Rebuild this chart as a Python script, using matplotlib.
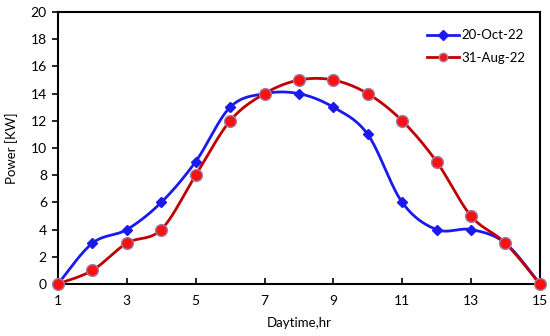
import numpy as np
import matplotlib
matplotlib.use("Agg")
import matplotlib.pyplot as plt
from matplotlib.lines import Line2D

plt.rcParams['font.family'] = ['Lato', 'DejaVu Sans']

hours = [1, 2, 3, 4, 5, 6, 7, 8, 9, 10, 11, 12, 13, 14, 15]
oct_power = [0, 3, 4, 6, 9, 13, 14, 14, 13, 11, 6, 4, 4, 3, 0]
aug_power = [0, 1, 3, 4, 8, 12, 14, 15, 15, 14, 12, 9, 5, 3, 0]


def smooth(x, y, n=30):
    # excel-like smoothed line: cubic bezier between points
    x = np.asarray(x, float)
    y = np.asarray(y, float)
    px = np.concatenate([[x[0]], x, [x[-1]]])
    py = np.concatenate([[y[0]], y, [y[-1]]])
    t = np.linspace(0, 1, n)
    xs, ys = [], []
    for i in range(1, len(px) - 2):
        p0 = np.array([px[i], py[i]])
        p3 = np.array([px[i + 1], py[i + 1]])
        c1 = p0 + (np.array([px[i + 1], py[i + 1]]) - np.array([px[i - 1], py[i - 1]])) / 6
        c2 = p3 - (np.array([px[i + 2], py[i + 2]]) - np.array([px[i], py[i]])) / 6
        b = ((1 - t) ** 3)[:, None] * p0 + (3 * (1 - t) ** 2 * t)[:, None] * c1 \
            + (3 * (1 - t) * t ** 2)[:, None] * c2 + (t ** 3)[:, None] * p3
        xs.extend(b[:, 0])
        ys.extend(b[:, 1])
    return xs, ys


blue = '#1a1aee'
red = '#c00000'

fig = plt.figure(figsize=(5.5, 3.36), dpi=100)
ax = fig.add_axes([0.1055, 0.155, 0.876, 0.809])

sx, sy = smooth(hours, oct_power)
ax.plot(sx, sy, color=blue, lw=2)
ax.plot(hours, oct_power, ls='none', marker='D', ms=5, color=blue, clip_on=False)

sx, sy = smooth(hours, aug_power)
ax.plot(sx, sy, color=red, lw=2)
ax.plot(hours, aug_power, ls='none', marker='o', ms=8.5, mfc='#ff1010',
        mec='#9a7fa8', mew=1, clip_on=False, zorder=5)

ax.set_xlim(1, 15)
ax.set_ylim(0, 20)
ax.set_xticks(range(1, 16, 2))
ax.set_yticks(range(0, 21, 2))
ax.tick_params(axis='x', direction='in', length=4, width=1.2, labelsize=10, pad=8)
ax.tick_params(axis='y', direction='out', length=4, width=1.2, labelsize=10, pad=4)
for s in ax.spines.values():
    s.set_linewidth(1.5)
ax.set_xlabel('Daytime,hr', fontsize=9.5, labelpad=7)
ax.set_ylabel('Power [KW]', fontsize=9.5, labelpad=9)

handles = [
    Line2D([], [], color=blue, lw=2, marker='D', ms=5),
    Line2D([], [], color=red, lw=2, marker='o', ms=6, mfc='#ff1010', mec='#9a7fa8'),
]
ax.legend(handles, ['20-Oct-22', '31-Aug-22'], loc='upper right', frameon=False,
          fontsize=9.5, handlelength=2.4, handletextpad=0.2, labelspacing=0.8,
          bbox_to_anchor=(0.995, 0.98))

fig.savefig('out.png', dpi=100)
